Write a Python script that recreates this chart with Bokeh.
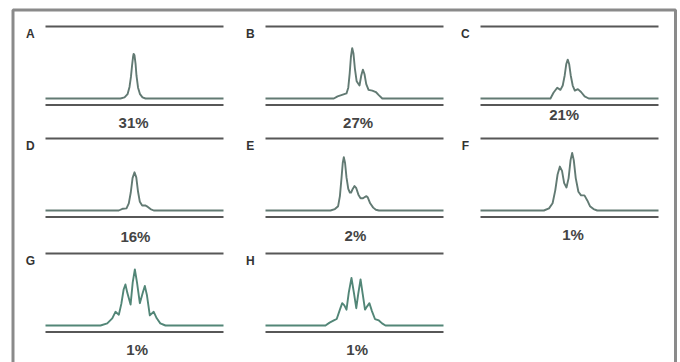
from bokeh.plotting import figure
from bokeh.models import Range1d
from bokeh.core.properties import value
from bokeh.embed import file_html
from bokeh.resources import INLINE

# ---------------- data ----------------
panel_labels = ["A", "B", "C", "D", "E", "F", "G", "H"]
percentages = ["31%", "27%", "21%", "16%", "2%", "1%", "1%", "1%"]

# retention position (0..100 across the trace) and signal (top reference line = 100)
a_x = [0, 42.1, 44.4, 46.1, 47.2, 48.0, 48.6, 49.2, 49.5, 50.0, 50.6, 51.1, 52.0, 53.1, 54.5, 56.2, 100]
a_y = [0, 0, 1.5, 6, 16, 30, 45, 58, 62, 60, 48, 32, 15, 6, 1.5, 0, 0]

b_x = [0, 38.4, 40.5, 43, 45.5, 46.5, 47.3, 48.0, 48.7, 49.4, 50.2, 51.2, 52.8, 53.8, 54.7, 55.6, 56.6, 57.9, 60, 62, 63.5, 65.6, 100]
b_y = [0, 0, 3, 5, 7, 15, 35, 58, 70, 63, 42, 24, 18, 32, 40, 34, 20, 12, 11, 9, 5, 0, 0]

c_x = [0, 39.3, 41, 43.1, 44.9, 46.2, 47.3, 48.2, 49.0, 49.8, 50.7, 51.8, 53.0, 54.7, 56.5, 58.5, 60.8, 100]
c_y = [0, 0, 8, 15, 12, 18, 32, 48, 54, 48, 32, 18, 11, 13, 9, 3, 0, 0]

d_x = [0, 41.2, 43.5, 45.5, 46.8, 47.9, 48.9, 50.0, 51.0, 52.0, 53.0, 54.3, 56, 57.5, 59, 60.8, 100]
d_y = [0, 0, 2.5, 3, 10, 25, 45, 53, 46, 26, 12, 7, 7, 5, 2, 0, 0]

e_x = [0, 36.5, 39, 40.8, 41.8, 42.7, 43.4, 44.0, 44.7, 45.5, 46.5, 47.4, 48.1, 49.0, 50.0, 51.0, 52.2, 53.4, 54.8, 56.0, 56.7, 57.5, 58.8, 60.5, 62, 63.7, 100]
e_y = [0, 0, 2, 6, 20, 45, 66, 74, 66, 46, 30, 25, 25, 30, 34, 31, 22, 17, 17, 19, 20, 18, 10, 4, 1, 0, 0]

f_x = [0, 35.6, 38.5, 40.5, 42, 43.3, 44.6, 45.8, 47, 48.3, 49.5, 50.6, 51.5, 52.4, 53.5, 55, 56.5, 58.4, 60, 61.5, 63.5, 65.6, 100]
f_y = [0, 0, 3, 10, 28, 50, 61, 55, 38, 32, 45, 70, 80, 70, 45, 26, 21, 21, 14, 6, 2, 0, 0]

g_x = [0, 30.9, 34.7, 37.5, 39.3, 41.2, 42.6, 43.9, 44.9, 46.0, 47.8, 49.0, 50.2, 51.4, 53.0, 54.6, 55.8, 57.0, 58.6, 60.8, 62.5, 64.5, 67.4, 100]
g_y = [0, 0, 3, 10, 19, 15, 30, 50, 57, 45, 29, 60, 78, 60, 31, 45, 55, 42, 14, 19, 10, 3, 0, 0]

h_x = [0, 33.7, 36, 38.4, 40, 41.8, 43.1, 44.3, 45.5, 46.8, 48.3, 49.7, 51.0, 52.1, 53.4, 54.6, 55.9, 57.2, 58.4, 59.8, 61.5, 63.7, 65.5, 67.4, 100]
h_y = [0, 0, 4, 7, 9, 22, 31, 28, 22, 46, 66, 45, 24, 44, 64, 44, 22, 27, 31, 20, 9, 7, 3, 0, 0]

curves_x = [a_x, b_x, c_x, d_x, e_x, f_x, g_x, h_x]
curves_y = [a_y, b_y, c_y, d_y, e_y, f_y, g_y, h_y]
FULL_SCALE = 100

# ---------------- layout / style ----------------
W, H = 680, 362
COL_START_PX = [45, 265, 480]     # where retention 0 sits in each column
ROW_TOP_PX = [26, 138, 253]       # where the top reference line sits in each row
PX_X = 1.78                       # pixels per x unit
PX_Y = 0.72                       # pixels per y unit
FRAME_X = [12.5, 12.5, 675, 675]
FRAME_Y = [400, 9.5, 9.5, 400]
SECOND_BASE = -9                  # lower base line (y units)
PCT_Y = [-33, -33, -22, -36, -35, -33, -33, -33]
PCT_X = [49.5, 52, 47, 50.5, 50.5, 52, 51.5, 51.5]
LABEL_X = -8.5
LABEL_Y = 89

FRAME = "#8a8a8a"
DARK = "#575757"
TRACE = ["#627a73"] * 6 + ["#528677", "#528677"]
FONT = "Liberation Sans"

p = figure(width=W, height=H, x_range=Range1d(0, W), y_range=Range1d(H, 0),
           output_backend="svg", toolbar_location=None, min_border=0,
           x_axis_location=None, y_axis_location=None,
           outline_line_color=None, background_fill_color="white",
           border_fill_color="white")
p.grid.visible = False

# one scale pair per panel column / row
for c, L in enumerate(COL_START_PX):
    s = -L / PX_X
    p.extra_x_ranges[f"col{c}"] = Range1d(s, s + W / PX_X)
for r, T in enumerate(ROW_TOP_PX):
    p.extra_y_ranges[f"row{r}"] = Range1d(FULL_SCALE - (H - T) / PX_Y, FULL_SCALE + T / PX_Y)

# outer frame
p.line(FRAME_X, FRAME_Y, line_color=FRAME, line_width=3)

for i in range(8):
    r, c = divmod(i, 3)
    kw = dict(x_range_name=f"col{c}", y_range_name=f"row{r}")
    cx, cy = curves_x[i], curves_y[i]
    # top reference line
    p.segment(x0=[cx[0]], y0=[FULL_SCALE], x1=[cx[-1]], y1=[FULL_SCALE],
              line_color=DARK, line_width=2, **kw)
    # lower base line
    p.segment(x0=[cx[0]], y0=[SECOND_BASE], x1=[cx[-1]], y1=[SECOND_BASE],
              line_color=DARK, line_width=2.2, **kw)
    # trace
    p.line(cx, cy, line_color=TRACE[i], line_width=1.9, line_join="round", **kw)
    # panel letter
    p.text(x=[LABEL_X], y=[LABEL_Y], text=[panel_labels[i]],
           text_font=value(FONT), text_font_style="bold", text_font_size="12px",
           text_color="#333333", text_align="center", text_baseline="middle", **kw)
    # percentage
    p.text(x=[PCT_X[i]], y=[PCT_Y[i]], text=[percentages[i]],
           text_font=value(FONT), text_font_style="bold", text_font_size="15px",
           text_color="#444444", text_align="center", text_baseline="middle", **kw)

open("out.html", "w").write(file_html(p, INLINE))
